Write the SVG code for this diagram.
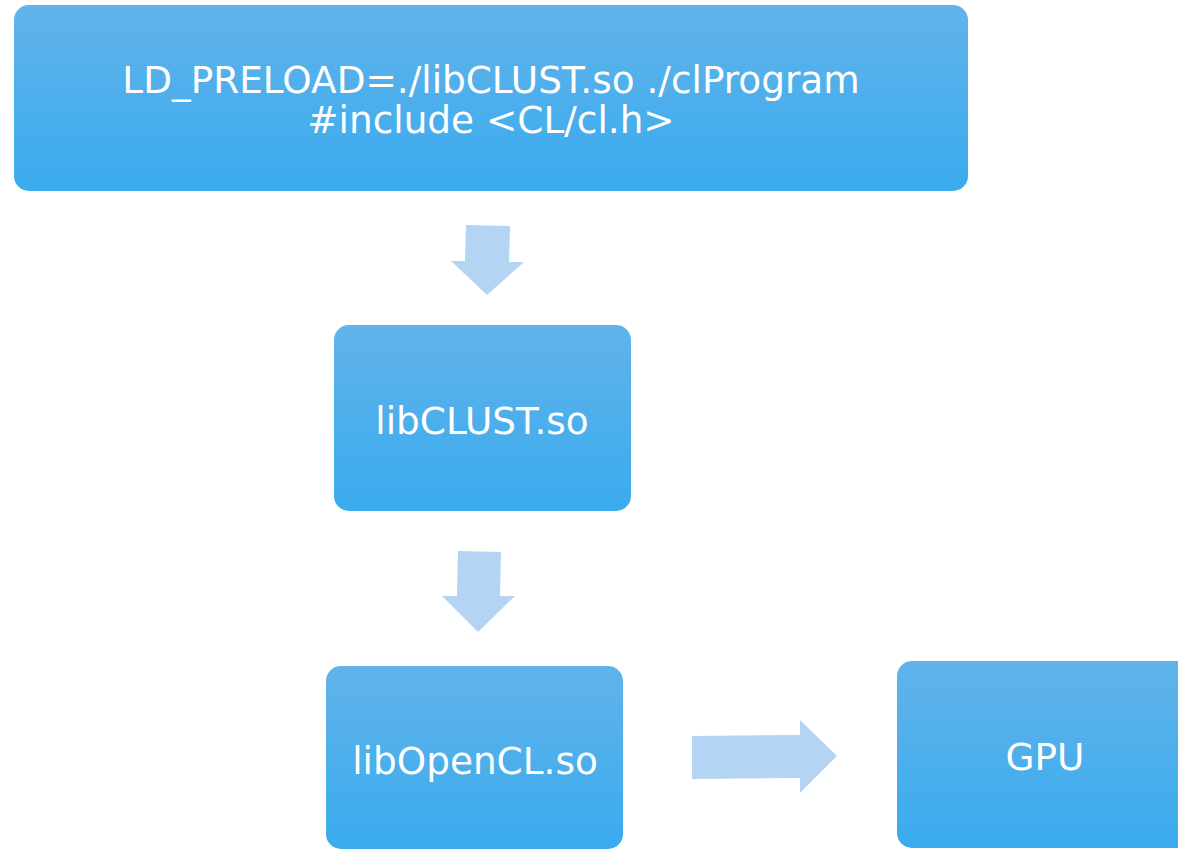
<svg xmlns="http://www.w3.org/2000/svg" width="1178" height="850" viewBox="0 0 1178 850">
<defs>
<linearGradient id="g" x1="0" y1="0" x2="0" y2="1">
<stop offset="0" stop-color="#61b3ea"/>
<stop offset="1" stop-color="#3aabee"/>
</linearGradient>
<style>
.box{fill:url(#g);}
.t{font-family:"DejaVu Sans",sans-serif;font-size:37.4px;fill:#ffffff;text-anchor:middle;}
.arr{fill:#b3d4f2;}
</style>
</defs>
<rect width="1178" height="850" fill="#ffffff"/>
<g id="node-top">
<rect class="box" x="14" y="5" width="954" height="186" rx="15"/>
<text class="t" x="491" y="93">LD_PRELOAD=./libCLUST.so ./clProgram</text>
<text class="t" x="491" y="133">#include &lt;CL/cl.h&gt;</text>
</g>
<g id="node-libclust">
<rect class="box" x="334" y="325" width="297" height="186" rx="15"/>
<text class="t" x="482" y="434">libCLUST.so</text>
</g>
<g id="node-libopencl">
<rect class="box" x="326" y="666" width="297" height="183" rx="15"/>
<text class="t" x="475" y="774">libOpenCL.so</text>
</g>
<g id="node-gpu">
<rect class="box" x="897" y="661" width="295" height="187" rx="15"/>
<text class="t" x="1045" y="770">GPU</text>
</g>
<g id="connectors">
<polygon class="arr" points="466,225 510,226 509,262 524,262 487,295 451,261 465,261"/>
<polygon class="arr" points="458,551 501,552 500,596 515,596 478,632 442,596 457,596"/>
<polygon class="arr" points="692,736 800,735 800,720 837,756 800,793 800,778 692,779"/>
</g>
</svg>
